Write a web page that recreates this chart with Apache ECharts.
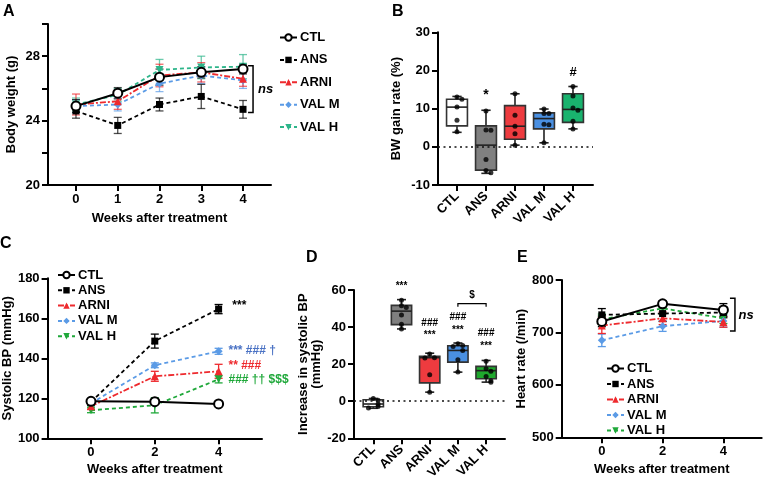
<!DOCTYPE html>
<html><head><meta charset="utf-8">
<script src="https://cdn.jsdelivr.net/npm/echarts@6/dist/echarts.min.js"></script>
<style>html,body{margin:0;padding:0;background:#fff}#c{width:763px;height:489px}</style>
</head><body><div id="c"></div>
<script>
// ---------- DATA ----------
const groups = ['CTL', 'ANS', 'ARNI', 'VAL M', 'VAL H'];
// Panel A: body weight (g), mean and SEM
const weeksA = [0, 1, 2, 3, 4];
const bwCTL  = [24.9, 25.7, 26.7, 27.0, 27.2];
const bwANS  = [24.6, 23.7, 25.0, 25.5, 24.7];
const bwARNI = [25.0, 25.2, 26.8, 27.0, 26.6];
const bwVALM = [24.9, 25.0, 26.3, 26.8, 26.5];
const bwVALH = [25.0, 25.6, 27.15, 27.3, 27.35];
const bwCTLsem  = [0.4, 0.35, 0.5, 0.35, 0.3];
const bwANSsem  = [0.45, 0.5, 0.4, 0.75, 0.55];
const bwARNIsem = [0.65, 0.5, 0.7, 0.6, 0.47];
const bwVALMsem = [0.4, 0.4, 0.5, 0.5, 0.5];
const bwVALHsem = [0.4, 0.4, 0.65, 0.7, 0.75];
// Panel B: BW gain rate (%) box stats [min, q1, median, q3, max] and points
const gainBox = [
  [3.8, 5.5, 10.4, 12.45, 13.2],
  [-6.95, -6.1, 0.44, 5.48, 9.58],
  [0.44, 2.0, 5.4, 10.8, 13.9],
  [1.05, 4.7, 7.4, 8.9, 9.9],
  [4.7, 6.4, 9.8, 13.9, 15.8]
];
const gainPts = [
  [13.05, 12.45, 10.44, 6.96, 3.92],
  [9.4, 4.4, 4.35, -3.3, -6.2, -6.8],
  [13.9, 8.27, 5.4, 3.4, 0.44],
  [9.9, 8.7, 8.7, 5.9, 5.8, 1.05],
  [15.8, 13.3, 10.2, 9.6, 6.7, 4.7]
];
// Panel C: systolic BP (mmHg)
const weeksC = [0, 2, 4];
const sbpCTL  = [118.5, 118.3, 117.2];
const sbpANS  = [118.2, 148.6, 164.6];
const sbpARNI = [116.0, 131.0, 133.5];
const sbpVALM = [117.5, 136.5, 143.5];
const sbpVALH = [114.0, 116.5, 129.5];
const sbpCTLsem  = [1.2, 1.0, 1.0];
const sbpANSsem  = [1.5, 3.5, 2.3];
const sbpARNIsem = [1.5, 2.5, 3.5];
const sbpVALMsem = [1.0, 1.2, 1.5];
const sbpVALHsem = [1.2, 3.8, 1.8];
// Panel D: increase in systolic BP (mmHg)
const dBox = [
  [-3.8, -3.0, -1.5, 0.8, 1.5],
  [39, 41.3, 48.6, 51.7, 54.8],
  [4.9, 9.9, 23.5, 24.2, 25.9],
  [15.7, 21.1, 27.4, 29.9, 31.4],
  [10.3, 12.1, 16.5, 18.8, 22]
];
const dPts = [
  [1.5, 0.5, -1.5, -2.8, -3.6],
  [54.5, 51.5, 50.5, 46.5, 41.5, 39],
  [25.5, 23.5, 23.3, 14.3, 4.9],
  [31.0, 30.1, 29.5, 27.4, 22.4, 15.7],
  [21.5, 17.5, 16.2, 13.3, 11, 10.3]
];
// Panel E: heart rate (/min)
const weeksE = [0, 2, 4];
const hrCTL  = [721, 754.5, 743];
const hrANS  = [733.5, 736, 738];
const hrARNI = [713, 727, 720];
const hrVALM = [685, 712, 722];
const hrVALH = [725, 746, 727];
const hrCTLsem  = [10, 6, 12];
const hrANSsem  = [12, 15, 10];
const hrARNIsem = [15, 12, 10];
const hrVALMsem = [12, 10, 12];
const hrVALHsem = [10, 10, 10];

// ---------- STYLE ----------
const FONT = '"Liberation Sans", Arial, Helvetica, sans-serif';
const RED = '#EE2A2E', BLUE = '#5B9BE6', BLUE_T = '#4A72C4', GREEN = '#1FA83A', TEAL = '#2DB58A';
const boxColorsB = ['#FFFFFF', '#808080', '#EE3B3F', '#4A90E2', '#19B36E'];
const boxColorsD = ['#FFFFFF', '#7F7F7F', '#EE3B3F', '#4A90E2', '#1FA82D'];

function lineStyleFor(g, green) {
  const m = {
    'CTL':   {color: '#000', type: 'solid', symbol: 'circle', size: 9, rot: 0},
    'ANS':   {color: '#000', type: [4, 3], symbol: 'rect', size: 7, rot: 0},
    'ARNI':  {color: RED, type: [6, 2, 2, 2], symbol: 'triangle', size: 8, rot: 0},
    'VAL M': {color: BLUE, type: [4, 3], symbol: 'diamond', size: 8, rot: 0},
    'VAL H': {color: green, type: [4, 3], symbol: 'triangle', size: 8, rot: 180}
  };
  return m[g];
}

function lineSeries(panel, gi, g, xs, ys, green, zBase) {
  const st = lineStyleFor(g, green);
  return {
    type: 'line', name: panel + '|' + g, xAxisIndex: gi, yAxisIndex: gi,
    data: xs.map((x, i) => [x, ys[i]]),
    symbol: st.symbol, symbolSize: st.size, symbolRotate: st.rot,
    showAllSymbol: true,
    lineStyle: {color: st.color, width: g === 'CTL' ? 2 : 1.8, type: st.type},
    itemStyle: {color: g === 'CTL' ? '#fff' : st.color, borderColor: st.color, borderWidth: g === 'CTL' ? 2 : 0},
    z: zBase, animation: false, silent: true
  };
}

function errSeries(gi, xs, ys, sem, color, opacity) {
  return {
    type: 'custom', xAxisIndex: gi, yAxisIndex: gi, z: 1, silent: true, animation: false,
    data: xs.map((x, i) => [x, ys[i], sem[i]]),
    renderItem(params, api) {
      const x = api.value(0), m = api.value(1), s = api.value(2);
      const p1 = api.coord([x, m + s]), p2 = api.coord([x, m - s]);
      const cw = 4;
      const st = {stroke: color, lineWidth: 1.3, opacity: opacity};
      return {type: 'group', children: [
        {type: 'line', shape: {x1: p1[0], y1: p1[1], x2: p2[0], y2: p2[1]}, style: st},
        {type: 'line', shape: {x1: p1[0] - cw, y1: p1[1], x2: p1[0] + cw, y2: p1[1]}, style: st},
        {type: 'line', shape: {x1: p2[0] - cw, y1: p2[1], x2: p2[0] + cw, y2: p2[1]}, style: st}
      ]};
    }
  };
}

function boxSeries(gi, stats, colors) {
  return {
    type: 'custom', xAxisIndex: gi, yAxisIndex: gi, z: 2, silent: true, animation: false,
    data: stats.map((s, i) => [i].concat(s)),
    renderItem(params, api) {
      const x = api.value(0);
      const lo = api.coord([x, api.value(1)]), q1 = api.coord([x, api.value(2)]),
            md = api.coord([x, api.value(3)]), q3 = api.coord([x, api.value(4)]),
            hi = api.coord([x, api.value(5)]);
      const half = api.size([0.72, 0])[0] / 2, cap = api.size([0.32, 0])[0] / 2;
      const cx = lo[0];
      const ln = {stroke: '#222', lineWidth: 1.6};
      return {type: 'group', children: [
        {type: 'line', shape: {x1: cx, y1: lo[1], x2: cx, y2: q1[1]}, style: ln},
        {type: 'line', shape: {x1: cx, y1: q3[1], x2: cx, y2: hi[1]}, style: ln},
        {type: 'line', shape: {x1: cx - cap, y1: lo[1], x2: cx + cap, y2: lo[1]}, style: ln},
        {type: 'line', shape: {x1: cx - cap, y1: hi[1], x2: cx + cap, y2: hi[1]}, style: ln},
        {type: 'rect', shape: {x: cx - half, y: q3[1], width: 2 * half, height: q1[1] - q3[1]},
          style: {fill: colors[params.dataIndex], stroke: '#333', lineWidth: 1.6}},
        {type: 'line', shape: {x1: cx - half, y1: md[1], x2: cx + half, y2: md[1]}, style: ln}
      ]};
    }
  };
}

function swarm(vals, thr, step) {
  return vals.map((v, i) => {
    let c = 0;
    for (let j = 0; j < i; j++) if (Math.abs(vals[j] - v) < thr) c++;
    return c === 0 ? 0 : (c % 2 ? 1 : -1) * Math.ceil(c / 2) * step;
  });
}

function ptsSeries(gi, pts, thr) {
  const data = [];
  pts.forEach((arr, i) => {
    const off = swarm(arr, thr, 0.17);
    arr.forEach((v, k) => data.push([i + off[k], v]));
  });
  return {
    type: 'scatter', xAxisIndex: gi, yAxisIndex: gi, z: 4, silent: true, animation: false,
    symbolSize: 5, itemStyle: {color: '#000'}, data: data,
    markLine: {silent: true, symbol: 'none', animation: false, label: {show: false},
      lineStyle: {type: [2, 3.5], color: '#111', width: 1.5}, data: [{yAxis: 0}]}
  };
}

function annSeries(gi, items) {
  return {
    type: 'custom', xAxisIndex: gi, yAxisIndex: gi, z: 10, silent: true, animation: false, clip: false,
    data: items.map(it => [it.x, it.y]),
    renderItem(params, api) {
      const it = items[params.dataIndex];
      const p = api.coord([api.value(0), api.value(1)]);
      return {type: 'text', x: p[0], y: p[1], style: {
        text: it.t, fill: it.c || '#000', align: it.a || 'left', verticalAlign: 'middle',
        font: (it.i ? 'italic ' : '') + 'bold ' + (it.s || 12) + 'px ' + FONT}};
    }
  };
}

function bracketV(gi, x, y1, y2, tick) {
  return {
    type: 'custom', xAxisIndex: gi, yAxisIndex: gi, z: 10, silent: true, animation: false, clip: false,
    data: [[x, y1, y2]],
    renderItem(params, api) {
      const a = api.coord([api.value(0), api.value(1)]), b = api.coord([api.value(0), api.value(2)]);
      return {type: 'polyline', shape: {points: [[a[0] - tick, a[1]], a, b, [b[0] - tick, b[1]]]},
        style: {stroke: '#000', lineWidth: 1.5, fill: null}};
    }
  };
}

function bracketH(gi, x1, x2, y, tick) {
  return {
    type: 'custom', xAxisIndex: gi, yAxisIndex: gi, z: 10, silent: true, animation: false, clip: false,
    data: [[x1, x2, y]],
    renderItem(params, api) {
      const a = api.coord([api.value(0), api.value(2)]), b = api.coord([api.value(1), api.value(2)]);
      return {type: 'polyline', shape: {points: [[a[0], a[1] + tick], a, b, [b[0], b[1] + tick]]},
        style: {stroke: '#000', lineWidth: 1.2, fill: null}};
    }
  };
}

const axisCommon = {
  axisLine: {onZero: false, lineStyle: {color: '#000', width: 2}},
  axisTick: {lineStyle: {color: '#000', width: 2}, length: 6},
  splitLine: {show: false},
  nameTextStyle: {color: '#000', fontFamily: FONT, fontWeight: 'bold', fontSize: 13}
};
function lab(size, extra) {
  return Object.assign({color: '#000', fontFamily: FONT, fontWeight: 'bold', fontSize: size, margin: 8}, extra || {});
}
function xVal(gi, min, max, ticks, name, gap, labelExtra) {
  return Object.assign({}, axisCommon, {
    type: 'value', gridIndex: gi, min: min, max: max,
    name: name, nameLocation: 'middle', nameGap: gap,
    axisLabel: Object.assign(lab(13), {customValues: ticks}, labelExtra || {}),
    axisTick: Object.assign({}, axisCommon.axisTick, {customValues: ticks})
  });
}
function yVal(gi, min, max, interval, name, gap, fmt) {
  return Object.assign({}, axisCommon, {
    type: 'value', gridIndex: gi, min: min, max: max, interval: interval,
    name: name, nameLocation: 'middle', nameGap: gap,
    axisLabel: Object.assign(lab(13), fmt ? {formatter: fmt} : {})
  });
}

const series = [];
// Panel A
const aVals = [bwCTL, bwANS, bwARNI, bwVALM, bwVALH];
const aSem = [bwCTLsem, bwANSsem, bwARNIsem, bwVALMsem, bwVALHsem];
const aCols = ['#000', '#000', RED, BLUE, TEAL];
[4, 3, 2, 1, 0].forEach(i => series.push(errSeries(0, weeksA, aVals[i], aSem[i], aCols[i], 0.7)));
[4, 3, 2, 1, 0].forEach((i, k) => series.push(lineSeries('A', 0, groups[i], weeksA, aVals[i], TEAL, 3 + k * 0.1)));
series.push(bracketV(0, 4.24, 27.4, 24.5, 5));
series.push(annSeries(0, [{x: 4.36, y: 25.95, t: 'ns', i: true, s: 13}]));
// Panel B
series.push(boxSeries(1, gainBox, boxColorsB));
series.push(ptsSeries(1, gainPts, 0.8));
series.push(annSeries(1, [{x: 1, y: 13.5, t: '*', a: 'center', s: 14}, {x: 4, y: 19.4, t: '#', a: 'center', s: 13}]));
// Panel C
const cVals = [sbpCTL, sbpANS, sbpARNI, sbpVALM, sbpVALH];
const cSem = [sbpCTLsem, sbpANSsem, sbpARNIsem, sbpVALMsem, sbpVALHsem];
const cCols = ['#000', '#000', RED, BLUE, GREEN];
[4, 3, 2, 1, 0].forEach(i => series.push(errSeries(2, weeksC, cVals[i], cSem[i], cCols[i], 1)));
[4, 3, 2, 1, 0].forEach((i, k) => series.push(lineSeries('C', 2, groups[i], weeksC, cVals[i], GREEN, 3 + k * 0.1)));
series.push(annSeries(2, [
  {x: 4.43, y: 166.2, t: '***', c: '#000', s: 12},
  {x: 4.31, y: 143.7, t: '*** ### \u2020', c: BLUE_T, s: 12},
  {x: 4.31, y: 136.2, t: '** ###', c: RED, s: 12},
  {x: 4.31, y: 129.2, t: '### \u2020\u2020 $$$', c: GREEN, s: 12}
]));
// Panel D
series.push(boxSeries(3, dBox, boxColorsD));
series.push(ptsSeries(3, dPts, 2.5));
series.push(bracketH(3, 3, 4, 52.6, 3));
series.push(annSeries(3, [
  {x: 1, y: 62, t: '***', a: 'center', s: 10},
  {x: 2, y: 41.8, t: '###', a: 'center', s: 10}, {x: 2, y: 35.5, t: '***', a: 'center', s: 10},
  {x: 3, y: 45.4, t: '###', a: 'center', s: 10}, {x: 3, y: 38.2, t: '***', a: 'center', s: 10},
  {x: 4, y: 36.4, t: '###', a: 'center', s: 10}, {x: 4, y: 29.6, t: '***', a: 'center', s: 10},
  {x: 3.5, y: 57.2, t: '$', a: 'center', s: 10}
]));
// Panel E
const eVals = [hrCTL, hrANS, hrARNI, hrVALM, hrVALH];
const eSem = [hrCTLsem, hrANSsem, hrARNIsem, hrVALMsem, hrVALHsem];
const eCols = ['#000', '#000', RED, BLUE, GREEN];
[4, 3, 2, 1, 0].forEach(i => series.push(errSeries(4, weeksE, eVals[i], eSem[i], eCols[i], 1)));
[4, 3, 2, 1, 0].forEach((i, k) => series.push(lineSeries('E', 4, groups[i], weeksE, eVals[i], GREEN, 3 + k * 0.1)));
series.push(bracketV(4, 4.38, 765, 702.7, 5));
series.push(annSeries(4, [{x: 4.5, y: 732, t: 'ns', i: true, s: 13}]));

function legendFor(panel, left, top, gap, size) {
  return {
    orient: 'vertical', left: left, top: top, padding: 0, itemGap: gap, itemWidth: 17, itemHeight: 8,
    data: groups.map(g => panel + '|' + g), selectedMode: false,
    formatter: n => n.split('|')[1],
    textStyle: {color: '#000', fontFamily: FONT, fontWeight: 'bold', fontSize: size, padding: [0, 0, 0, -2]}
  };
}

const letter = (t, x, y) => ({type: 'text', left: x, top: y,
  style: {text: t, fill: '#000', font: 'bold 16px ' + FONT}});

const option = {
  backgroundColor: '#fff',
  animation: false,
  grid: [
    {left: 48, top: 24, width: 223, height: 161},
    {left: 438, top: 32.3, width: 155, height: 152.7},
    {left: 45, top: 278.3, width: 217, height: 160},
    {left: 354, top: 290, width: 151, height: 148.3},
    {left: 561.7, top: 280, width: 200, height: 157.3}
  ],
  xAxis: [
    xVal(0, -0.67, 4.67, [0, 1, 2, 3, 4], 'Weeks after treatment', 27),
    xVal(1, -0.655, 4.69, [0, 1, 2, 3, 4], '', 0, {rotate: 45, formatter: v => groups[v], margin: 9}),
    xVal(2, -1.36, 5.36, [0, 2, 4], 'Weeks after treatment', 25),
    xVal(3, -0.684, 4.67, [0, 1, 2, 3, 4], '', 0, {rotate: 45, formatter: v => groups[v], margin: 9}),
    xVal(4, -1.32, 5.26, [0, 2, 4], 'Weeks after treatment', 26)
  ],
  yAxis: [
    yVal(0, 20, 30, 2, 'Body weight (g)', 30, v => (v === 20 || v === 24 || v === 28) ? v : ''),
    yVal(1, -10, 30, 10, 'BW gain rate (%)', 35),
    yVal(2, 100, 180, 20, 'Systolic BP (mmHg)', 30),
    yVal(3, -20, 60, 20, 'Increase in systolic BP\n(mmHg)', 25),
    yVal(4, 500, 800, 100, 'Heart rate (/min)', 29)
  ],
  legend: [
    legendFor('A', 279, 31, 9.4, 13),
    legendFor('C', 57, 268.5, 2.3, 13),
    legendFor('E', 606, 362, 2.5, 13)
  ],
  graphic: [
    letter('A', 3, 4), letter('B', 392, 4), letter('C', 0, 236), letter('D', 306, 250), letter('E', 517, 250)
  ],
  series: series
};

const chart = echarts.init(document.getElementById('c'), null, {renderer: 'canvas'});
chart.setOption(option);
</script>
</body></html>
